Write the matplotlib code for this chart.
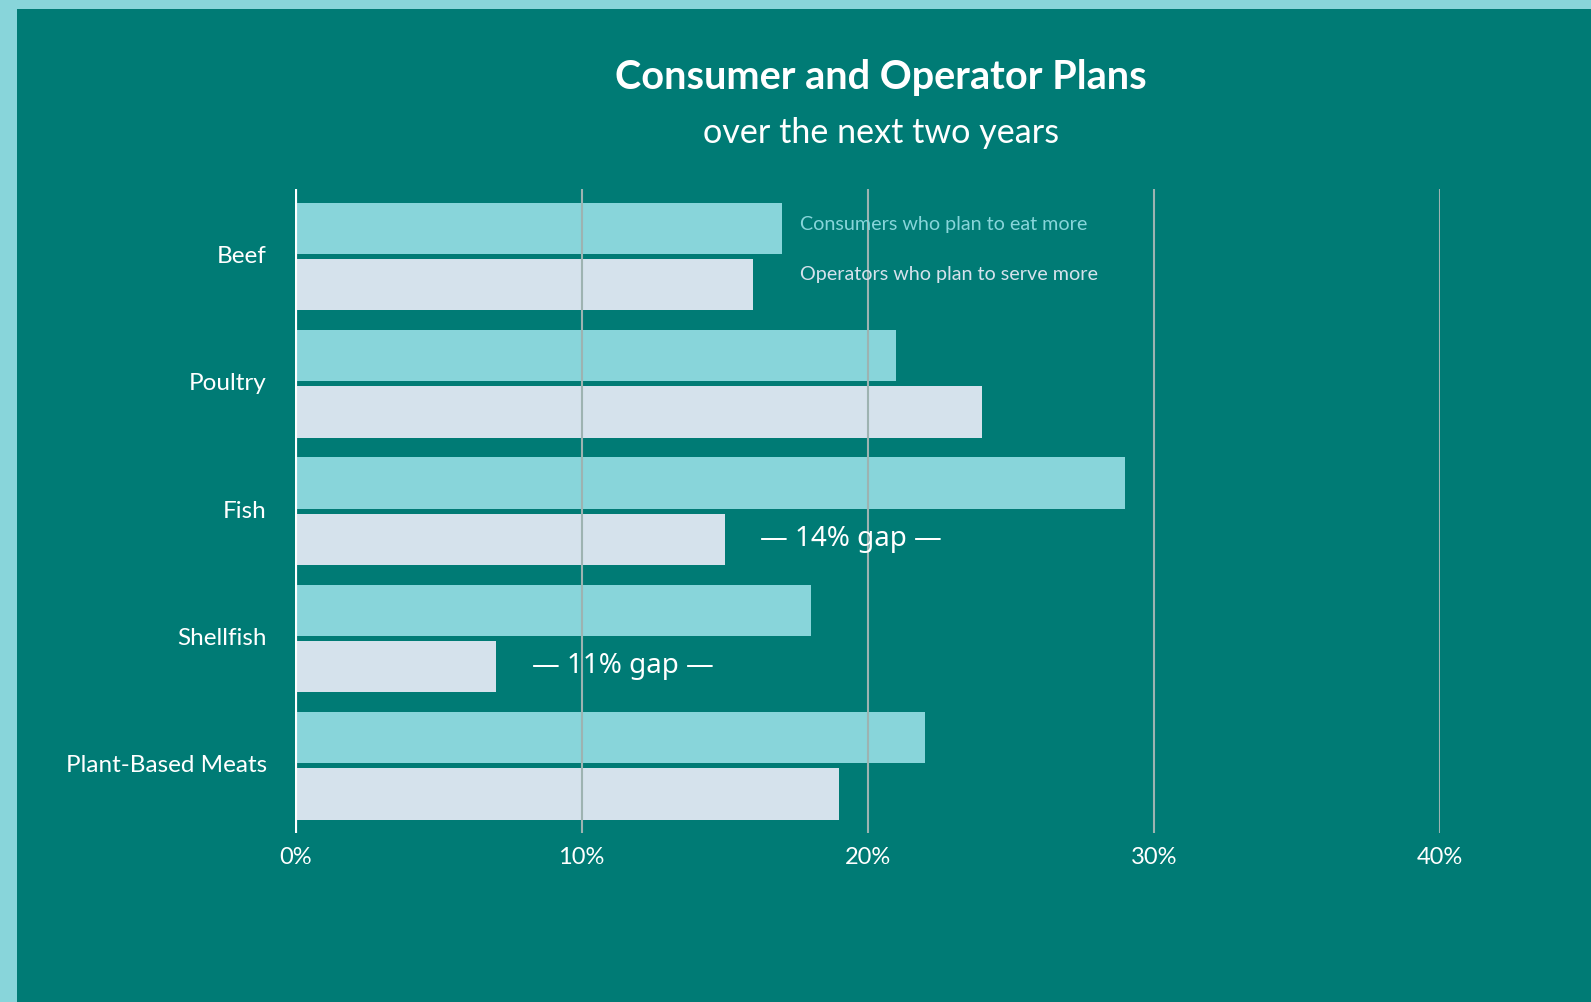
import matplotlib.pyplot as plt
from matplotlib.patches import Rectangle
from matplotlib.transforms import ScaledTranslation

categories = ["Beef", "Poultry", "Fish", "Shellfish", "Plant-Based Meats"]
consumers = [17, 21, 29, 18, 22]
operators = [16, 24, 15, 7, 19]
xticks = [0, 10, 20, 30, 40]
xtick_labels = ["0%", "10%", "20%", "30%", "40%"]
gap_rows = [2, 3]  # Fish, Shellfish

BG = "#007B75"
FRAME = "#88D5DA"
CONSUMER = "#88D5DA"
OPERATOR = "#D5E2EC"
GRID = "#9DB3B1"

plt.rcParams["font.family"] = ["Lato", "DejaVu Sans"]

fig = plt.figure(figsize=(15.91, 10.03), dpi=100, facecolor=BG)
# light frame strips along the left and top edges
fig.patches.append(Rectangle((0, 0), 17 / 1591, 1, transform=fig.transFigure,
                             facecolor=FRAME, edgecolor="none", zorder=-5))
fig.patches.append(Rectangle((0, 1 - 10 / 1003), 1, 10 / 1003,
                             transform=fig.transFigure, facecolor=FRAME,
                             edgecolor="none", zorder=-5))

ax = fig.add_axes([0.1857, 0.1683, 0.7195, 0.6423])
ax.set_facecolor("none")

bar_h = 0.403
offset = 0.221
ys = list(range(len(categories)))
ax.barh([y - offset for y in ys], consumers, height=bar_h, color=CONSUMER,
        zorder=2, label="Consumers who plan to eat more")
ax.barh([y + offset for y in ys], operators, height=bar_h, color=OPERATOR,
        zorder=2, label="Operators who plan to serve more")

ax.set_xlim(0, 40)
ax.set_ylim(4.53, -0.53)

for x in xticks[1:]:
    ax.axvline(x, color=GRID, lw=1.5, zorder=3)
ax.axvline(0, color="white", lw=3, zorder=4)

for s in ax.spines.values():
    s.set_visible(False)
ax.set_xticks(xticks)
ax.set_xticklabels(xtick_labels)
ax.set_yticks(ys)
ax.set_yticklabels(categories)
ax.tick_params(axis="both", length=0, colors="white")
ax.tick_params(axis="y", pad=20.5, labelsize=17.5)
ax.tick_params(axis="x", pad=9.5, labelsize=17)
# category names sit a touch above the middle of each pair
lift = ScaledTranslation(0, 3 / 100, fig.dpi_scale_trans)
for lbl in ax.get_yticklabels():
    lbl.set_transform(lbl.get_transform() + lift)

# gap callouts next to the operator bars
for i in gap_rows:
    gap = consumers[i] - operators[i]
    ax.text(operators[i] + 1.25, i + offset + 0.045, f"\u2014 {gap}% gap \u2014",
            color="white", fontsize=20, family=["Noto Sans", "DejaVu Sans"],
            va="baseline", ha="left", zorder=5)

# inline legend
ax.text(17.62, -0.217, "Consumers who plan to eat more", color=CONSUMER,
        fontsize=14.2, va="baseline", ha="left", zorder=5)
ax.text(17.62, 0.175, "Operators who plan to serve more", color=OPERATOR,
        fontsize=14.2, va="baseline", ha="left", zorder=5)

fig.text(0.5535, 1 - 77 / 1003, "Consumer and Operator Plans", color="white",
         fontsize=28.5, fontweight="bold", ha="center", va="center")
fig.text(0.5535, 1 - 133 / 1003, "over the next two years", color="white",
         fontsize=24.6, ha="center", va="center")

fig.savefig("out.png", dpi=100, facecolor=BG)
